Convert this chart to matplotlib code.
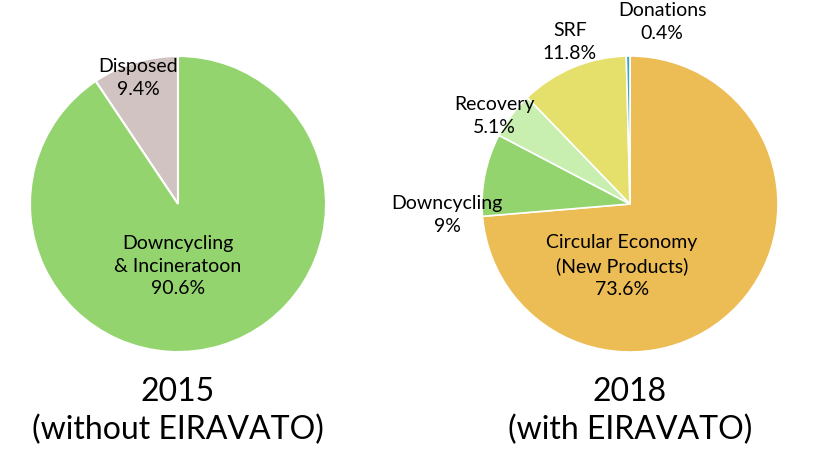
import matplotlib.pyplot as plt

plt.rcParams['font.family'] = ['Lato', 'DejaVu Sans']

# 2015 data
labels_2015 = ['Disposed', 'Downcycling\n& Incineratoon']
values_2015 = [9.4, 90.6]
colors_2015 = ['#D1C3C1', '#94D46F']

# 2018 data
labels_2018 = ['Circular Economy\n(New Products)', 'Downcycling', 'Recovery', 'SRF', 'Donations']
values_2018 = [73.6, 9, 5.1, 11.8, 0.4]
pct_2018 = ['73.6%', '9%', '5.1%', '11.8%', '0.4%']
colors_2018 = ['#ECBC55', '#94D46F', '#C8EFB0', '#E5E06B', '#3AA6C9']

W, H = 822, 462
fig = plt.figure(figsize=(W / 100, H / 100), dpi=100)
R = 148


def pie_axes(cx, cy):
    ax = fig.add_axes([(cx - R) / W, 1 - (cy + R) / H, 2 * R / W, 2 * R / H])
    ax.axis('off')
    return ax


def px(x, y):
    return x / W, 1 - y / H


ax1 = pie_axes(178, 204)
ax1.pie(values_2015, colors=colors_2015, startangle=90, counterclock=True, radius=1,
        wedgeprops=dict(edgecolor='white', linewidth=1.5))
ax1.set_xlim(-1, 1)
ax1.set_ylim(-1, 1)

ax2 = pie_axes(630, 204)
ax2.pie(values_2018, colors=colors_2018, startangle=90, counterclock=False, radius=1,
        wedgeprops=dict(edgecolor='white', linewidth=1.2))
ax2.set_xlim(-1, 1)
ax2.set_ylim(-1, 1)

fs = 14
ls = 1.4
fig.text(*px(138, 78), 'Disposed\n9.4%', ha='center', va='center', fontsize=fs, linespacing=ls)
fig.text(*px(178, 266), 'Downcycling\n& Incineratoon\n90.6%', ha='center', va='center',
         fontsize=fs, linespacing=ls)

fig.text(*px(622, 266), 'Circular Economy\n(New Products)\n73.6%', ha='center', va='center',
         fontsize=fs, linespacing=ls)
fig.text(*px(447, 215), 'Downcycling\n9%', ha='center', va='center', fontsize=fs, linespacing=ls)
fig.text(*px(494, 116), 'Recovery\n5.1%', ha='center', va='center', fontsize=fs, linespacing=ls)
fig.text(*px(570, 42), 'SRF\n11.8%', ha='center', va='center', fontsize=fs, linespacing=ls)
fig.text(*px(662, 22), 'Donations\n0.4%', ha='center', va='center', fontsize=fs, linespacing=ls)

fig.text(*px(178, 411), '2015\n(without EIRAVATO)', ha='center', va='center', fontsize=23,
         linespacing=1.3)
fig.text(*px(630, 411), '2018\n(with EIRAVATO)', ha='center', va='center', fontsize=23,
         linespacing=1.3)

fig.savefig('out.png', dpi=100)
